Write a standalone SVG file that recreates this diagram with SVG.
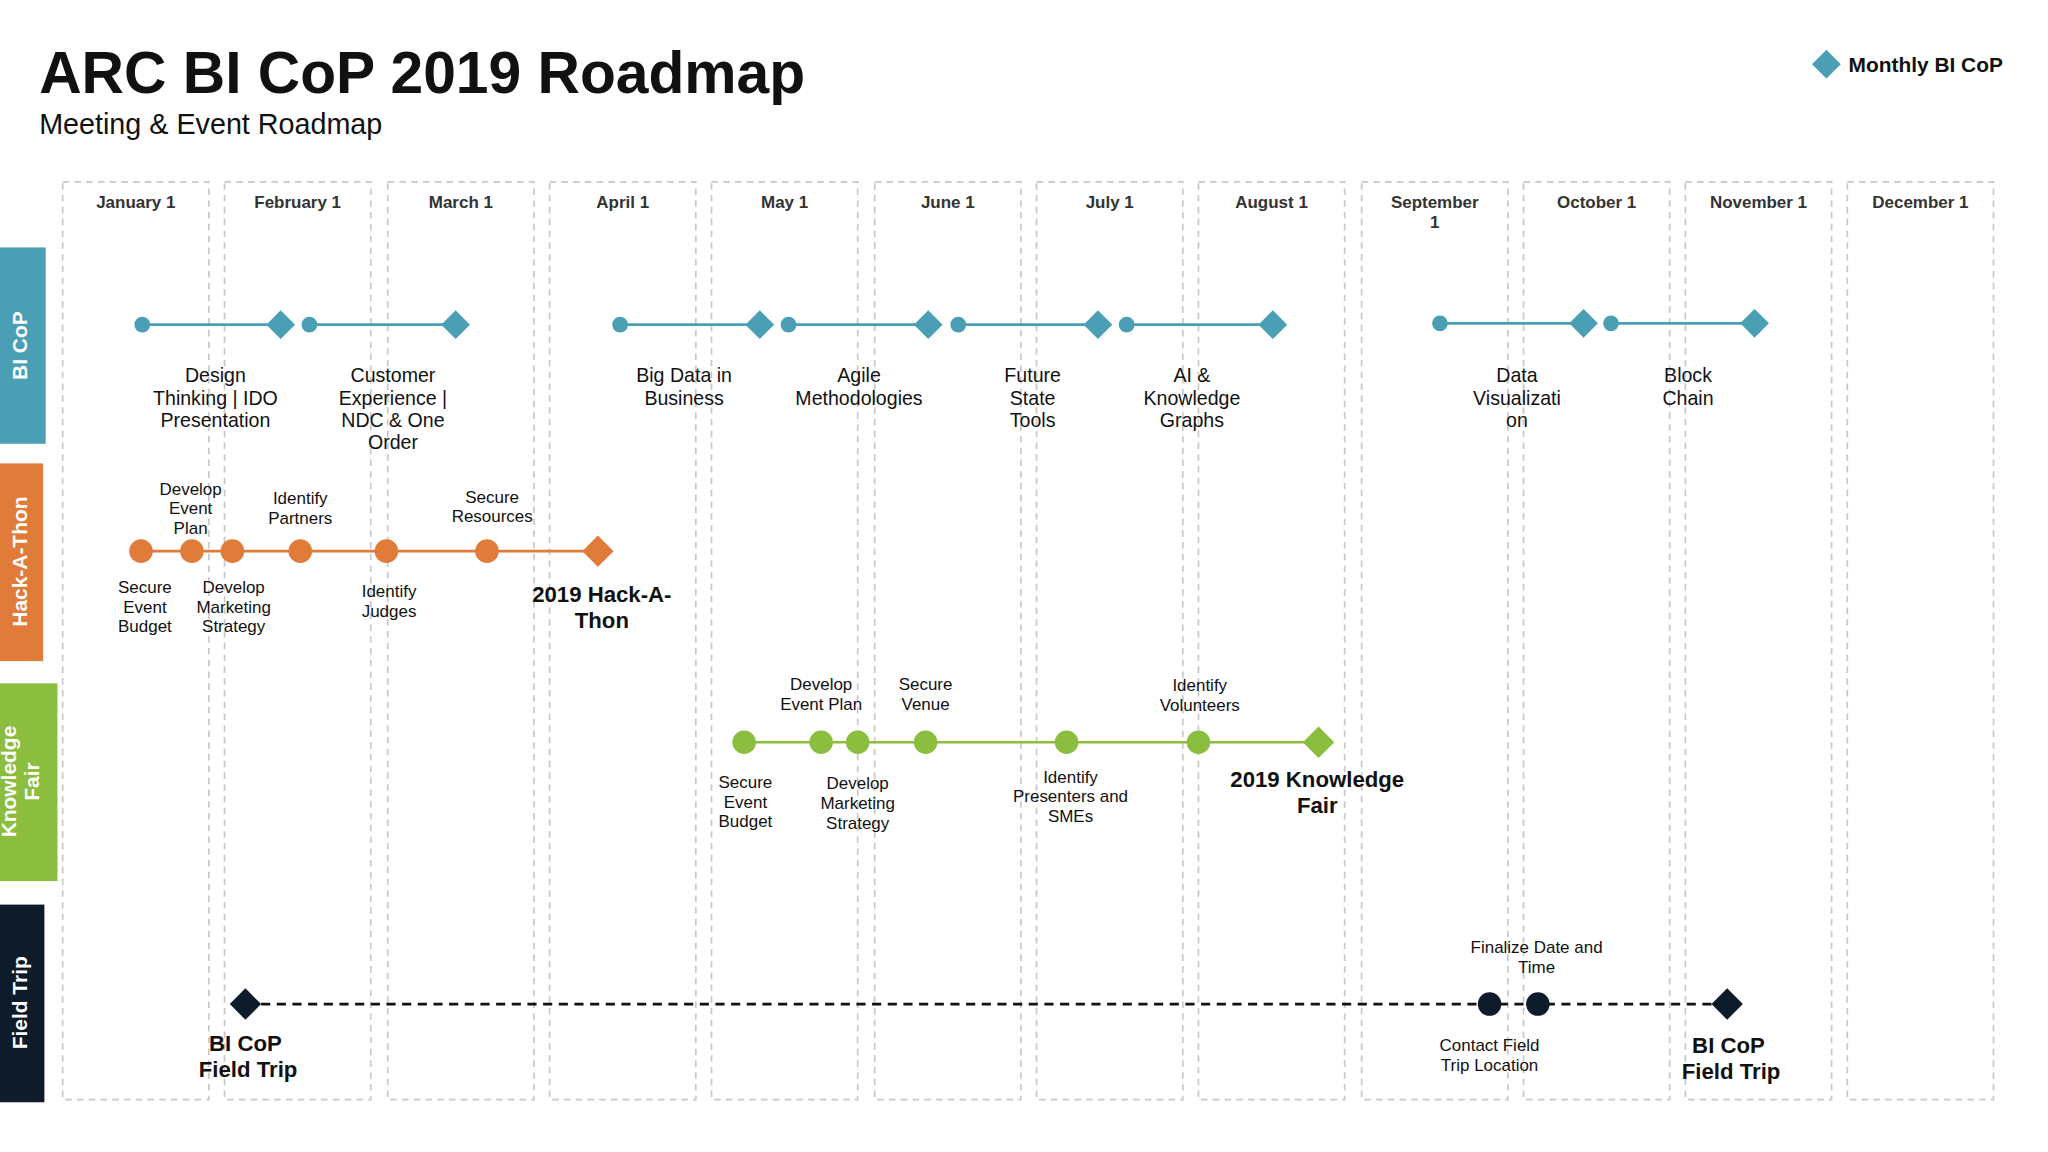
<svg xmlns="http://www.w3.org/2000/svg" width="2048" height="1152" viewBox="0 0 2048 1152">
<style>
text{font-family:"Liberation Sans",Arial,sans-serif;fill:#111}
.m{font-size:13px;font-weight:bold;fill:#333;text-anchor:middle}
.col{fill:none;stroke:#c8c8c8;stroke-width:1.3;stroke-dasharray:5 4}
.b{font-size:15px;text-anchor:middle}
.s{font-size:13px;text-anchor:middle}
.big{font-size:17px;font-weight:bold;text-anchor:middle}
.lane{font-size:16px;font-weight:bold;fill:#fff;text-anchor:middle}
.bl{stroke:#4a9fb5;stroke-width:2}
.or{stroke:#e07b39;stroke-width:2}
.gr{stroke:#8bbd3f;stroke-width:2}
</style>
<rect width="2048" height="1152" fill="#fff"/>
<g transform="scale(1.3055,1.3091)">
<g id="title">
<text x="30" y="71" font-size="45" font-weight="bold">ARC BI CoP 2019 Roadmap</text>
<text x="30" y="102" font-size="22">Meeting &amp; Event Roadmap</text>
</g>
<g id="legend">
<polygon points="1399,38 1410,49 1399,60 1388,49" fill="#4a9fb5"/>
<text x="1416" y="55" font-size="16" font-weight="bold">Monthly BI CoP</text>
</g>
<g id="months">
<rect class="col" x="48" y="139" width="112" height="701"/>
<rect class="col" x="172" y="139" width="112" height="701"/>
<rect class="col" x="297" y="139" width="112" height="701"/>
<rect class="col" x="421" y="139" width="112" height="701"/>
<rect class="col" x="545" y="139" width="112" height="701"/>
<rect class="col" x="670" y="139" width="112" height="701"/>
<rect class="col" x="794" y="139" width="112" height="701"/>
<rect class="col" x="918" y="139" width="112" height="701"/>
<rect class="col" x="1043" y="139" width="112" height="701"/>
<rect class="col" x="1167" y="139" width="112" height="701"/>
<rect class="col" x="1291" y="139" width="112" height="701"/>
<rect class="col" x="1415" y="139" width="112" height="701"/>
<text class="m" x="104" y="159">January  1</text>
<text class="m" x="228" y="159">February 1</text>
<text class="m" x="353" y="159">March 1</text>
<text class="m" x="477" y="159">April  1</text>
<text class="m" x="601" y="159">May  1</text>
<text class="m" x="726" y="159">June  1</text>
<text class="m" x="850" y="159">July 1</text>
<text class="m" x="974" y="159">August  1</text>
<text class="m" x="1099" y="159">September</text>
<text class="m" x="1099" y="174">1</text>
<text class="m" x="1223" y="159">October 1</text>
<text class="m" x="1347" y="159">November 1</text>
<text class="m" x="1471" y="159">December 1</text>
</g>
<g id="lanes">
<rect x="0" y="189" width="35" height="150" fill="#4a9fb5"/>
<rect x="0" y="354" width="33" height="151" fill="#e07b39"/>
<rect x="0" y="522" width="44" height="151" fill="#8bbd3f"/>
<rect x="0" y="691" width="34" height="151" fill="#0d1b2a"/>
<text class="lane" transform="translate(21,264) rotate(-90)">BI CoP</text>
<text class="lane" transform="translate(21,429) rotate(-90)">Hack-A-Thon</text>
<text class="lane" transform="translate(12,597) rotate(-90)">Knowledge</text>
<text class="lane" transform="translate(30,597) rotate(-90)">Fair</text>
<text class="lane" transform="translate(21,766) rotate(-90)">Field Trip</text>
</g>
<g id="connectors">
<line class="bl" x1="109" y1="248" x2="215" y2="248"/>
<line class="bl" x1="237" y1="248" x2="349" y2="248"/>
<line class="bl" x1="475" y1="248" x2="582" y2="248"/>
<line class="bl" x1="604" y1="248" x2="711" y2="248"/>
<line class="bl" x1="734" y1="248" x2="841" y2="248"/>
<line class="bl" x1="863" y1="248" x2="975" y2="248"/>
<line class="bl" x1="1103" y1="247" x2="1213" y2="247"/>
<line class="bl" x1="1234" y1="247" x2="1344" y2="247"/>
<line class="or" x1="108" y1="421" x2="458" y2="421"/>
<line class="gr" x1="570" y1="567" x2="1010" y2="567"/>
<line x1="188" y1="767" x2="1323" y2="767" stroke="#111" stroke-width="2" stroke-dasharray="7 5"/>
</g>
<g id="bicop" fill="#4a9fb5">
<circle cx="109" cy="248" r="6"/><polygon points="215,237 226,248 215,259 204,248"/>
<circle cx="237" cy="248" r="6"/><polygon points="349,237 360,248 349,259 338,248"/>
<circle cx="475" cy="248" r="6"/><polygon points="582,237 593,248 582,259 571,248"/>
<circle cx="604" cy="248" r="6"/><polygon points="711,237 722,248 711,259 700,248"/>
<circle cx="734" cy="248" r="6"/><polygon points="841,237 852,248 841,259 830,248"/>
<circle cx="863" cy="248" r="6"/><polygon points="975,237 986,248 975,259 964,248"/>
<circle cx="1103" cy="247" r="6"/><polygon points="1213,236 1224,247 1213,258 1202,247"/>
<circle cx="1234" cy="247" r="6"/><polygon points="1344,236 1355,247 1344,258 1333,247"/>
</g>
<g id="bicop-labels">
<text class="b" x="165" y="292">Design<tspan x="165" dy="17">Thinking | IDO</tspan><tspan x="165" dy="17">Presentation</tspan></text>
<text class="b" x="301" y="292">Customer<tspan x="301" dy="17">Experience |</tspan><tspan x="301" dy="17">NDC &amp; One</tspan><tspan x="301" dy="17">Order</tspan></text>
<text class="b" x="524" y="292">Big Data in<tspan x="524" dy="17">Business</tspan></text>
<text class="b" x="658" y="292">Agile<tspan x="658" dy="17">Methodologies</tspan></text>
<text class="b" x="791" y="292">Future<tspan x="791" dy="17">State</tspan><tspan x="791" dy="17">Tools</tspan></text>
<text class="b" x="913" y="292">AI &amp;<tspan x="913" dy="17">Knowledge</tspan><tspan x="913" dy="17">Graphs</tspan></text>
<text class="b" x="1162" y="292">Data<tspan x="1162" dy="17">Visualizati</tspan><tspan x="1162" dy="17">on</tspan></text>
<text class="b" x="1293" y="292">Block<tspan x="1293" dy="17">Chain</tspan></text>
</g>
<g id="hackathon" fill="#e07b39">
<circle cx="108" cy="421" r="9"/><circle cx="147" cy="421" r="9"/><circle cx="178" cy="421" r="9"/>
<circle cx="230" cy="421" r="9"/><circle cx="296" cy="421" r="9"/><circle cx="373" cy="421" r="9"/>
<polygon points="458,409 470,421 458,433 446,421"/>
<text class="s" x="146" y="378">Develop<tspan x="146" dy="15">Event</tspan><tspan x="146" dy="15">Plan</tspan></text>
<text class="s" x="230" y="385">Identify<tspan x="230" dy="15">Partners</tspan></text>
<text class="s" x="377" y="384">Secure<tspan x="377" dy="15">Resources</tspan></text>
<text class="s" x="111" y="453">Secure<tspan x="111" dy="15">Event</tspan><tspan x="111" dy="15">Budget</tspan></text>
<text class="s" x="179" y="453">Develop<tspan x="179" dy="15">Marketing</tspan><tspan x="179" dy="15">Strategy</tspan></text>
<text class="s" x="298" y="456">Identify<tspan x="298" dy="15">Judges</tspan></text>
<text class="big" x="461" y="460">2019 Hack-A-<tspan x="461" dy="20">Thon</tspan></text>
</g>
<g id="kfair" fill="#8bbd3f">
<circle cx="570" cy="567" r="9"/><circle cx="629" cy="567" r="9"/><circle cx="657" cy="567" r="9"/>
<circle cx="709" cy="567" r="9"/><circle cx="817" cy="567" r="9"/><circle cx="918" cy="567" r="9"/>
<polygon points="1010,555 1022,567 1010,579 998,567"/>
<text class="s" x="629" y="527">Develop<tspan x="629" dy="15">Event Plan</tspan></text>
<text class="s" x="709" y="527">Secure<tspan x="709" dy="15">Venue</tspan></text>
<text class="s" x="919" y="528">Identify<tspan x="919" dy="15">Volunteers</tspan></text>
<text class="s" x="571" y="602">Secure<tspan x="571" dy="15">Event</tspan><tspan x="571" dy="15">Budget</tspan></text>
<text class="s" x="657" y="603">Develop<tspan x="657" dy="15">Marketing</tspan><tspan x="657" dy="15">Strategy</tspan></text>
<text class="s" x="820" y="598">Identify<tspan x="820" dy="15">Presenters and</tspan><tspan x="820" dy="15">SMEs</tspan></text>
<text class="big" x="1009" y="601">2019 Knowledge<tspan x="1009" dy="20">Fair</tspan></text>
</g>
<g id="fieldtrip" fill="#0d1b2a">
<polygon points="188,755 200,767 188,779 176,767"/>
<circle cx="1141" cy="767" r="9"/><circle cx="1178" cy="767" r="9"/>
<polygon points="1323,755 1335,767 1323,779 1311,767"/>
<text class="s" x="1177" y="728">Finalize Date and<tspan x="1177" dy="15">Time</tspan></text>
<text class="s" x="1141" y="803">Contact Field<tspan x="1141" dy="15">Trip Location</tspan></text>
<text class="big" x="188" y="803">BI CoP<tspan x="190" dy="20">Field Trip</tspan></text>
<text class="big" x="1324" y="804">BI CoP<tspan x="1326" dy="20">Field Trip</tspan></text>
</g>
</g>
</svg>
